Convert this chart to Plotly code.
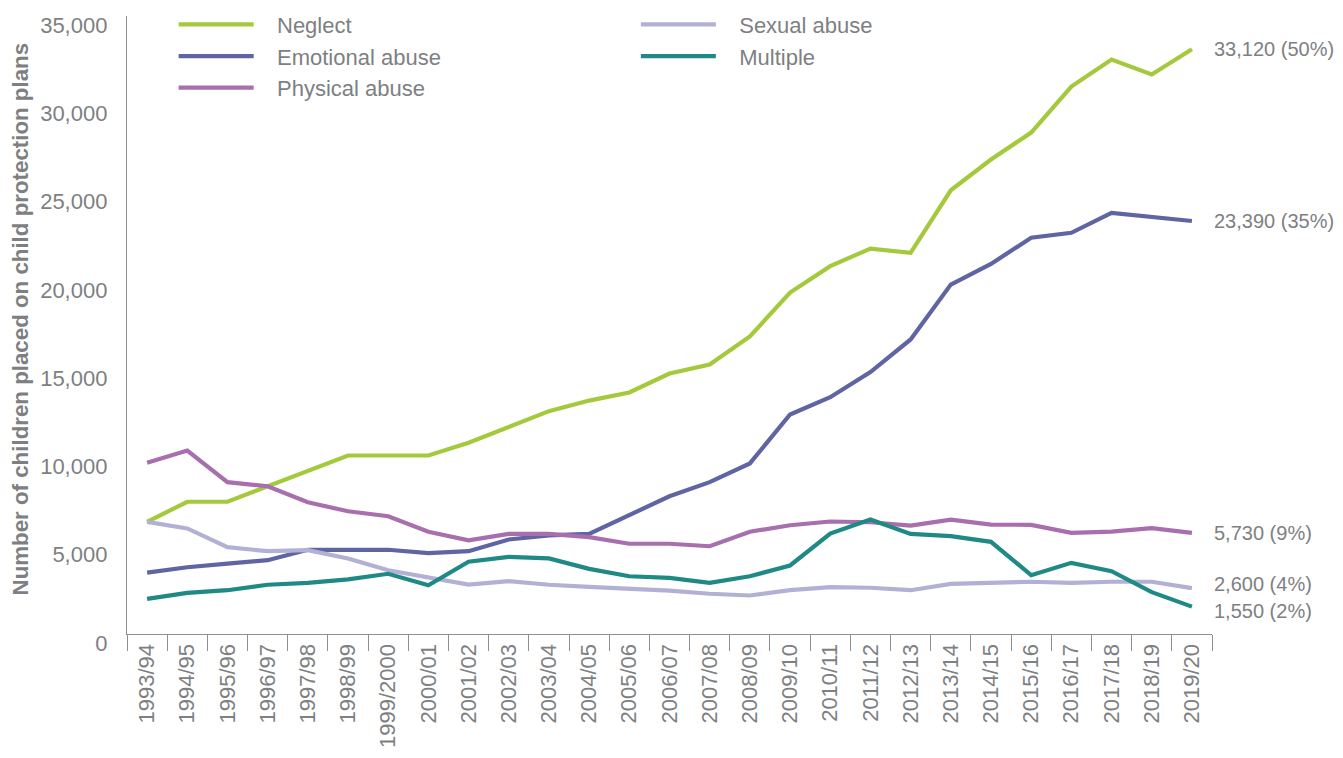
import plotly.graph_objects as go

categories = ["1993/94", "1994/95", "1995/96", "1996/97", "1997/98", "1998/99", "1999/2000",
              "2000/01", "2001/02", "2002/03", "2003/04", "2004/05", "2005/06", "2006/07",
              "2007/08", "2008/09", "2009/10", "2010/11", "2011/12", "2012/13", "2013/14",
              "2014/15", "2015/16", "2016/17", "2017/18", "2018/19", "2019/20"]

neglect = [6350, 7490, 7490, 8370, 9280, 10110, 10110, 10110, 10830, 11710, 12620, 13220,
           13680, 14750, 15260, 16850, 19340, 20830, 21830, 21590, 25130, 26870, 28400,
           31000, 32530, 31690, 33120]
emotional = [3480, 3780, 3990, 4180, 4770, 4770, 4770, 4580, 4690, 5350, 5580, 5670,
             6710, 7800, 8600, 9660, 12430, 13410, 14830, 16680, 19790, 20960, 22440,
             22720, 23850, 23600, 23390]
physical = [9700, 10390, 8600, 8370, 7460, 6950, 6670, 5790, 5300, 5670, 5670, 5490,
            5110, 5110, 4970, 5790, 6160, 6370, 6330, 6140, 6480, 6200, 6180, 5730,
            5800, 5990, 5730]
sexual = [6350, 5980, 4920, 4690, 4750, 4280, 3610, 3180, 2800, 2990, 2790, 2670,
          2580, 2460, 2280, 2180, 2480, 2650, 2620, 2480, 2840, 2880, 2960, 2900,
          2960, 2960, 2600]
multiple = [1990, 2330, 2480, 2790, 2900, 3090, 3410, 2760, 4090, 4370, 4280, 3690,
            3270, 3180, 2900, 3270, 3880, 5690, 6480, 5670, 5540, 5220, 3330, 4030,
            3560, 2370, 1550]

end_labels = {
    "Neglect": "33,120 (50%)",
    "Emotional abuse": "23,390 (35%)",
    "Physical abuse": "5,730 (9%)",
    "Sexual abuse": "2,600 (4%)",
    "Multiple": "1,550 (2%)",
}

y_ticks = [0, 5000, 10000, 15000, 20000, 25000, 30000, 35000]
y_tick_text = ["0", "5,000", "10,000", "15,000", "20,000", "25,000", "30,000", "35,000"]

FONT = "Liberation Sans, Arial, Helvetica, sans-serif"
GREY = "#7e7f82"
AXIS = "#8f8f8f"
PAD = "\u00a0\u00a0\u00a0"

series = [
    ("Neglect", neglect, "#a4c93c", "legend"),
    ("Emotional abuse", emotional, "#5f64a3", "legend"),
    ("Physical abuse", physical, "#a86eae", "legend"),
    ("Sexual abuse", sexual, "#b3b0d5", "legend2"),
    ("Multiple", multiple, "#1f8a85", "legend2"),
]

label_yshift = {"Sexual abuse": 4, "Multiple": -4}

fig = go.Figure()
for name, vals, color, leg in series:
    fig.add_trace(go.Scatter(
        x=categories, y=vals, name=PAD + name, mode="lines",
        line=dict(color=color, width=4.2),
        legend=leg, hovertemplate="%{x}: %{y:,}<extra>" + name + "</extra>",
    ))

for name, vals, color, leg in series:
    fig.add_annotation(
        x=categories[-1], y=vals[-1], text=end_labels[name],
        showarrow=False, xanchor="left", yanchor="middle",
        xshift=20, yshift=label_yshift.get(name, 0),
        font=dict(family=FONT, size=20, color=GREY),
    )

fig.add_annotation(
    xref="paper", yref="paper", x=-0.0986, y=0.509,
    text="<b>Number of children placed on child protection plans</b>",
    textangle=-90, showarrow=False, xanchor="center", yanchor="middle",
    borderpad=0,
    font=dict(family=FONT, size=22.3, color=GREY),
)

# page body has an 8px default margin, so the figure is 8px smaller and margins compensated
fig.update_layout(
    width=1335, height=750,
    margin=dict(l=119, r=131, t=8, b=124, autoexpand=False),
    plot_bgcolor="white", paper_bgcolor="white",
    font=dict(family=FONT, size=22, color=GREY),
    showlegend=True,
    legend=dict(x=0.043, y=1.02, xanchor="left", yanchor="top",
                bgcolor="rgba(0,0,0,0)", font=dict(size=22, color=GREY),
                itemwidth=75, tracegroupgap=0),
    legend2=dict(x=0.469, y=1.02, xanchor="left", yanchor="top",
                 bgcolor="rgba(0,0,0,0)", font=dict(size=22, color=GREY),
                 itemwidth=75, tracegroupgap=0),
    xaxis=dict(
        type="category", range=[-0.5, len(categories) - 0.5],
        showline=True, linecolor=AXIS, linewidth=1.3,
        ticks="outside", ticklen=16, tickcolor=AXIS, tickwidth=1.3,
        tickson="boundaries", tickangle=-90, automargin=False,
        tickfont=dict(family=FONT, size=22, color=GREY),
        showgrid=False, zeroline=False,
    ),
    yaxis=dict(
        range=[0, 35000], tickvals=y_ticks, ticktext=y_tick_text,
        showline=True, linecolor=AXIS, linewidth=1.3, automargin=False,
        ticks="", showgrid=False, zeroline=False,
        tickfont=dict(family=FONT, size=22, color=GREY),
        ticklabelshift=9, ticklabelstandoff=14,
    ),
)

fig.write_html("out.html")
